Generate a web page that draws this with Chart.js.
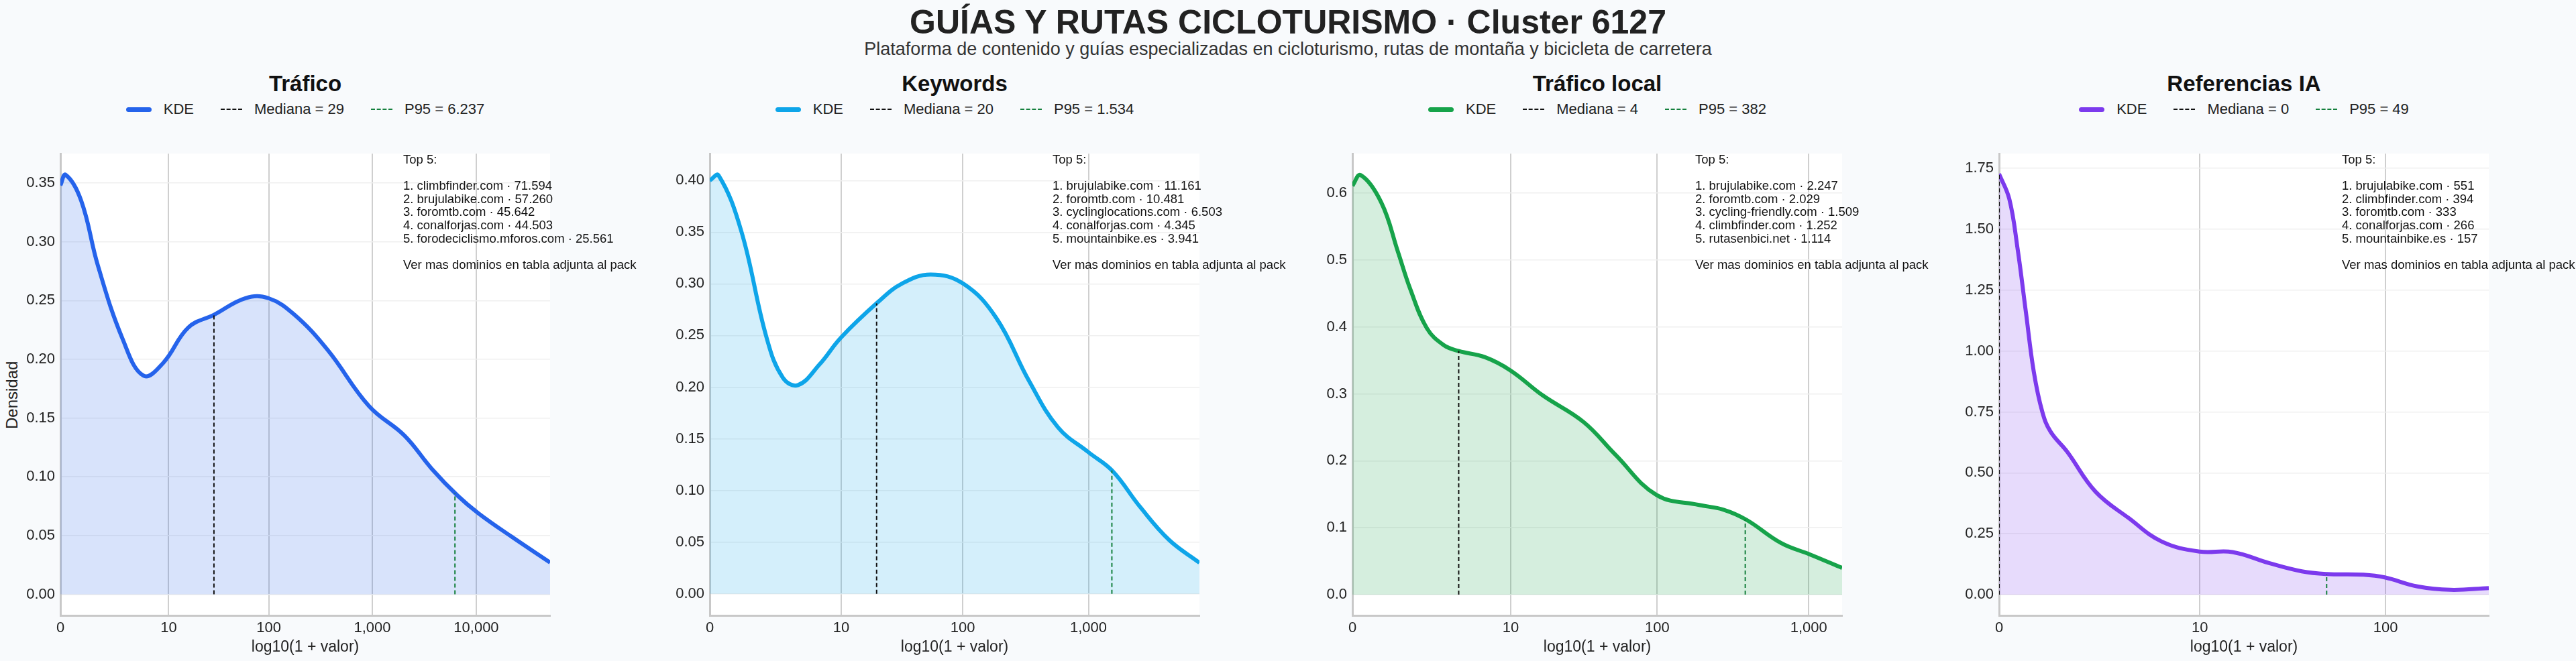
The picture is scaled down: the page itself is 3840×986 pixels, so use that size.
<!DOCTYPE html>
<html>
<head>
<meta charset="utf-8">
<script src="https://cdn.jsdelivr.net/npm/chart.js@4.4.1/dist/chart.umd.min.js"></script>
<style>
  body { margin: 0; background: #f8fafc; font-family: "Liberation Sans", Arial, sans-serif; }
  #wrap { position: relative; width: 3840px; height: 986px; overflow: hidden; }
  .abs { position: absolute; }
  #title { left: 0; width: 3840px; top: 4px; text-align: center; font-size: 50px; font-weight: bold; color: #222; }
  #sub { left: 0; width: 3840px; top: 58px; text-align: center; font-size: 27px; color: #333; }
  .ptitle { font-size: 33px; font-weight: bold; color: #111; text-align: center; width: 730px; top: 106px; }
  .legend { top: 150px; width: 730px; display: flex; justify-content: center; align-items: center; font-size: 22px; color: #222; gap: 0; }
  .legend .item { display: flex; align-items: center; margin: 0 20px; }
  .legend .sw { width: 38px; margin-right: 18px; }
  .note { font-size: 18.5px; line-height: 19.6px; color: #111; white-space: pre; }
  #ylab { left: 4px; top: 640px; font-size: 24px; color: #222; transform: rotate(-90deg); transform-origin: left top; }
</style>
</head>
<body>
<div id="wrap">
  <div id="title" class="abs">GUÍAS Y RUTAS CICLOTURISMO · Cluster 6127</div>
  <div id="sub" class="abs">Plataforma de contenido y guías especializadas en cicloturismo, rutas de montaña y bicicleta de carretera</div>
  <div id="ylab" class="abs">Densidad</div>
</div>
<script>
// ---- data (x = log10(1 + valor), y = densidad) ----
const panelTitles = ["Tráfico", "Keywords", "Tráfico local", "Referencias IA"];
const panelColors = ["#2563eb", "#0ea5e9", "#16a34a", "#7c3aed"];
const panelFills = ["rgba(37,99,235,0.18)", "rgba(14,165,233,0.18)", "rgba(22,163,74,0.18)", "rgba(124,58,237,0.18)"];

const kdeTraficoX = [0, 0.05, 0.2, 0.36, 0.6, 0.8, 0.99, 1.23, 1.48, 1.78, 2.0, 2.25, 2.57, 2.97, 3.31, 3.57, 3.82, 4.02, 4.34, 4.71];
const kdeTraficoY = [0.348, 0.357, 0.335, 0.28, 0.217, 0.186, 0.197, 0.227, 0.238, 0.252, 0.252, 0.238, 0.208, 0.160, 0.135, 0.107, 0.084, 0.069, 0.049, 0.027];

const kdeKeywordsX = [0, 0.07, 0.25, 0.45, 0.58, 0.70, 0.87, 1.04, 1.33, 1.52, 1.75, 2.01, 2.27, 2.53, 2.76, 3.0, 3.19, 3.41, 3.64, 3.88];
const kdeKeywordsY = [0.40, 0.405, 0.351, 0.248, 0.209, 0.202, 0.222, 0.248, 0.282, 0.300, 0.309, 0.300, 0.267, 0.206, 0.161, 0.137, 0.119, 0.084, 0.052, 0.030];

const kdeLocalX = [0, 0.054, 0.19, 0.30, 0.38, 0.49, 0.60, 0.70, 0.87, 1.04, 1.25, 1.52, 1.73, 2.0, 2.28, 2.44, 2.59, 2.82, 3.01, 3.22];
const kdeLocalY = [0.611, 0.627, 0.586, 0.512, 0.457, 0.398, 0.373, 0.364, 0.355, 0.335, 0.298, 0.258, 0.209, 0.149, 0.134, 0.127, 0.112, 0.077, 0.060, 0.040];

const kdeIAX = [0, 0.053, 0.096, 0.139, 0.18, 0.224, 0.267, 0.353, 0.50, 0.673, 0.844, 1.04, 1.21, 1.40, 1.57, 1.70, 1.89, 2.0, 2.17, 2.34, 2.54];
const kdeIAY = [1.727, 1.624, 1.42, 1.16, 0.915, 0.751, 0.669, 0.587, 0.423, 0.314, 0.218, 0.177, 0.175, 0.13, 0.096, 0.085, 0.082, 0.071, 0.034, 0.020, 0.027];

const medianas = [29, 20, 4, 0];
const p95s = [6237, 1534, 382, 49];
const medianaLabels = ["Mediana = 29", "Mediana = 20", "Mediana = 4", "Mediana = 0"];
const p95Labels = ["P95 = 6.237", "P95 = 1.534", "P95 = 382", "P95 = 49"];

const xTickValues = [[0, 10, 100, 1000, 10000], [0, 10, 100, 1000], [0, 10, 100, 1000], [0, 10, 100]];
const xTickLabels = [["0", "10", "100", "1,000", "10,000"], ["0", "10", "100", "1,000"], ["0", "10", "100", "1,000"], ["0", "10", "100"]];
const xMax = [4.71, 3.88, 3.22, 2.54];
const yMin = [-0.018, -0.021, -0.031, -0.085];
const yMax = [0.375, 0.426, 0.659, 1.81];
const yStep = [0.05, 0.05, 0.1, 0.25];
const yDecimals = [2, 2, 1, 2];

const top5 = [
  ["1. climbfinder.com · 71.594", "2. brujulabike.com · 57.260", "3. foromtb.com · 45.642", "4. conalforjas.com · 44.503", "5. forodeciclismo.mforos.com · 25.561"],
  ["1. brujulabike.com · 11.161", "2. foromtb.com · 10.481", "3. cyclinglocations.com · 6.503", "4. conalforjas.com · 4.345", "5. mountainbike.es · 3.941"],
  ["1. brujulabike.com · 2.247", "2. foromtb.com · 2.029", "3. cycling-friendly.com · 1.509", "4. climbfinder.com · 1.252", "5. rutasenbici.net · 1.114"],
  ["1. brujulabike.com · 551", "2. climbfinder.com · 394", "3. foromtb.com · 333", "4. conalforjas.com · 266", "5. mountainbike.es · 157"],
];
const kdeX = [kdeTraficoX, kdeKeywordsX, kdeLocalX, kdeIAX];
const kdeY = [kdeTraficoY, kdeKeywordsY, kdeLocalY, kdeIAY];

// ---- layout ----
const plotLefts = [90, 1058, 2016, 2980];
const plotW = 730, plotTop = 218, plotBottom = 918;
const YW = 100, PAD = 10, XH = 65;

function interp(xs, ys, x) {
  for (let i = 1; i < xs.length; i++) {
    if (x <= xs[i]) {
      const t = (x - xs[i - 1]) / (xs[i] - xs[i - 1]);
      return ys[i - 1] + t * (ys[i] - ys[i - 1]);
    }
  }
  return ys[ys.length - 1];
}

const whiteArea = {
  id: "whiteArea",
  beforeDraw(chart) {
    const { ctx, chartArea: a } = chart;
    ctx.save();
    ctx.fillStyle = "#ffffff";
    ctx.fillRect(a.left, a.top, a.right - a.left, a.bottom - a.top);
    ctx.restore();
  },
};

const wrap = document.getElementById("wrap");

panelTitles.forEach((title, i) => {
  const left = plotLefts[i];
  const t = document.createElement("div");
  t.className = "abs ptitle";
  t.style.left = left + "px";
  t.textContent = title;
  wrap.appendChild(t);

  const lg = document.createElement("div");
  lg.className = "abs legend";
  lg.style.left = left + "px";
  lg.innerHTML =
    `<span class="item"><span class="sw" style="border-top:7px solid ${panelColors[i]};border-radius:4px"></span>KDE</span>` +
    `<span class="item"><span class="sw" style="border-top:2px dashed #111;width:32px"></span>${medianaLabels[i]}</span>` +
    `<span class="item"><span class="sw" style="border-top:2px dashed #15803d;width:32px"></span>${p95Labels[i]}</span>`;
  wrap.appendChild(lg);

  const box = document.createElement("div");
  box.className = "abs";
  box.style.left = left - YW - PAD + "px";
  box.style.top = plotTop - PAD + "px";
  box.style.width = plotW + YW + 2 * PAD + "px";
  box.style.height = plotBottom - plotTop + PAD + XH + "px";
  const cv = document.createElement("canvas");
  box.appendChild(cv);
  wrap.appendChild(box);

  const mx = Math.log10(1 + medianas[i]);
  const px = Math.log10(1 + p95s[i]);
  const xs = kdeX[i], ys = kdeY[i];

  new Chart(cv, {
    type: "line",
    data: {
      datasets: [
        {
          label: "KDE",
          data: xs.map((x, k) => ({ x, y: ys[k] })),
          borderColor: panelColors[i],
          backgroundColor: panelFills[i],
          borderWidth: 6,
          fill: "origin",
          tension: 0.4,
          pointRadius: 0,
          order: 2,
        },
        {
          label: medianaLabels[i],
          data: [{ x: mx, y: 0 }, { x: mx, y: interp(xs, ys, mx) }],
          borderColor: "#111",
          borderWidth: 2,
          borderDash: [6, 4],
          pointRadius: 0,
          fill: false,
          order: 1,
        },
        {
          label: p95Labels[i],
          data: [{ x: px, y: 0 }, { x: px, y: interp(xs, ys, px) }],
          borderColor: "#15803d",
          borderWidth: 2,
          borderDash: [6, 4],
          pointRadius: 0,
          fill: false,
          order: 1,
        },
      ],
    },
    options: {
      responsive: true,
      maintainAspectRatio: false,
      animation: false,
      layout: { padding: { left: PAD, right: PAD, top: PAD, bottom: 0 } },
      plugins: { legend: { display: false }, tooltip: { enabled: false } },
      scales: {
        x: {
          type: "linear",
          min: 0,
          max: xMax[i],
          afterBuildTicks: (s) => { s.ticks = xTickValues[i].map((v) => ({ value: Math.log10(1 + v) })); },
          afterFit: (s) => { s.height = XH; },
          ticks: {
            callback: (v, k) => xTickLabels[i][k],
            color: "#222",
            font: { family: "Liberation Sans", size: 22 },
            padding: 6,
            maxRotation: 0,
          },
          grid: { color: "#cfcfcf", lineWidth: 2, drawTicks: false },
          border: { color: "#c8c8c8", width: 3 },
          title: { display: true, text: "log10(1 + valor)", color: "#222", font: { family: "Liberation Sans", size: 23 }, padding: { top: 4 } },
        },
        y: {
          min: yMin[i],
          max: yMax[i],
          afterBuildTicks: (s) => {
            const arr = [];
            for (let v = 0; v <= yMax[i] + 1e-9; v += yStep[i]) arr.push({ value: +v.toFixed(4) });
            s.ticks = arr;
          },
          afterFit: (s) => { s.width = YW; },
          ticks: {
            callback: (v) => v.toFixed(yDecimals[i]),
            color: "#222",
            font: { family: "Liberation Sans", size: 22 },
            padding: 8,
          },
          grid: { color: "#efefef", lineWidth: 1.5, drawTicks: false },
          border: { color: "#c8c8c8", width: 3 },
        },
      },
    },
    plugins: [whiteArea],
  });

  const note = document.createElement("div");
  note.className = "abs note";
  note.style.left = left + Math.round(plotW * 0.70) + "px";
  note.style.top = plotTop + 10 + "px";
  note.textContent = ["Top 5:", ""].concat(top5[i], ["", "Ver mas dominios en tabla adjunta al pack"]).join("\n");
  wrap.appendChild(note);
});
</script>
</body>
</html>
